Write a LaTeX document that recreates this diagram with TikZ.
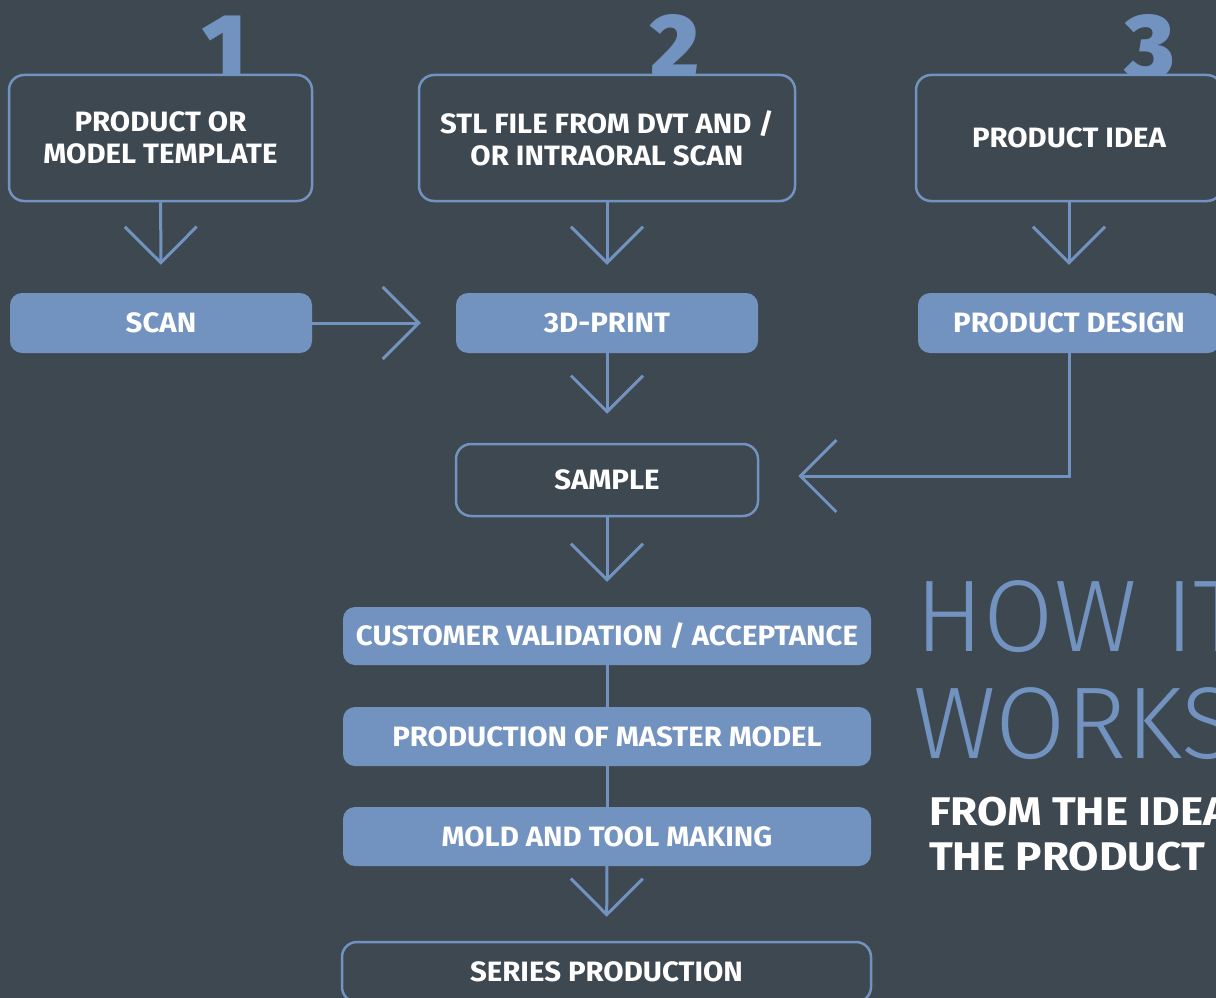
\documentclass[tikz,border=0pt]{standalone}
\usepackage{fontspec}
\setmainfont{Fira Sans}
\newfontfamily\lightfont{Fira Sans Light}
\newfontfamily\lblfont{Fira Sans}[FakeStretch=1.05]
\newfontfamily\subfont{Fira Sans}[FakeStretch=1.1]
\newfontfamily\heavyfont{Fira Sans Black}
\usetikzlibrary{arrows.meta}
\definecolor{bg}{RGB}{62,72,80}
\definecolor{blu}{RGB}{114,146,192}
\begin{document}
\begin{tikzpicture}[x=1pt,y=-1pt,
  lbl/.style={text=white, font=\lblfont\bfseries\fontsize{28}{32}\selectfont, align=center, inner sep=0pt},
  outbox/.style={lbl, draw=blu, line width=2.5pt, fill=bg, rounded corners=15pt},
  fillbox/.style={lbl, fill=blu, rounded corners=12pt},
  digit/.style={text=blu, font=\heavyfont\fontsize{92}{92}\selectfont, anchor=base, inner sep=0pt},
  flow/.style={draw=blu, line width=3pt, -{Straight Barb[length=36pt,width=72pt]}},
  link/.style={draw=blu, line width=3pt},
  title/.style={anchor=base west, text=blu, font=\lightfont\fontsize{102}{102}\selectfont, inner sep=0pt},
  subtitle/.style={anchor=base west, text=white, font=\subfont\bfseries\fontsize{40}{44}\selectfont, inner sep=0pt}]
\useasboundingbox (0,0) rectangle (1216,998);
\fill[bg] (0,0) rectangle (1216,998);
\clip (0,0) rectangle (1216,998);
% digits
\node[digit] (n1) at (225,78) {1};
\node[digit] (n2) at (675,78) {2};
\node[digit] (n3) at (1150,78) {3};
% top boxes
\node[outbox, minimum width=303pt, minimum height=126pt] (b1) at (160.5,138) {PRODUCT OR\\MODEL TEMPLATE};
\node[outbox, minimum width=376pt, minimum height=126pt] (b2) at (607,138) {STL FILE FROM DVT AND /\\OR INTRAORAL SCAN};
\node[outbox, minimum width=306pt, minimum height=126pt] (b3) at (1069,138) {PRODUCT IDEA};
% filled row
\node[fillbox, minimum width=302pt, minimum height=60pt] (scan) at (161,323) {SCAN};
\node[fillbox, minimum width=302pt, minimum height=60pt] (print) at (607,323) {3D-PRINT};
\node[fillbox, minimum width=302pt, minimum height=60pt] (design) at (1069,323) {PRODUCT DESIGN};
% sample
\node[outbox, minimum width=302pt, minimum height=72pt] (sample) at (607,480) {SAMPLE};
% lower chain
\node[fillbox, minimum width=528pt, minimum height=58pt] (cust) at (607,636) {CUSTOMER VALIDATION / ACCEPTANCE};
\node[fillbox, minimum width=528pt, minimum height=59pt] (master) at (607,736.5) {PRODUCTION OF MASTER MODEL};
\node[fillbox, minimum width=528pt, minimum height=59pt] (mold) at (607,836.5) {MOLD AND TOOL MAKING};
\node[outbox, minimum width=529pt, minimum height=60pt] (series) at (606.5,972) {SERIES PRODUCTION};
% connectors
\draw[flow, shorten >=28pt] (b1) -- (scan);
\draw[flow, shorten >=28pt] (b2) -- (print);
\draw[flow, shorten >=28pt] (b3) -- (design);
\draw[flow, shorten >=35pt] (scan) -- (print);
\draw[flow, shorten >=29pt] (print) -- (sample);
\draw[flow, shorten >=25pt] (sample) -- (cust);
\draw[link] (cust) -- (master);
\draw[link] (master) -- (mold);
\draw[flow, shorten >=24pt] (mold) -- (series);
\draw[flow, shorten >=39pt] (design.south) |- ([yshift=4pt]sample.east);
% title
\node[title] (t1) at (915,651) {HOW IT};
\node[title] (t2) at (913,758) {WORKS};
\node[subtitle] (s1) at (929,825) {FROM THE IDEA};
\node[subtitle] (s2) at (929,870) {THE PRODUCT};
\end{tikzpicture}
\end{document}
